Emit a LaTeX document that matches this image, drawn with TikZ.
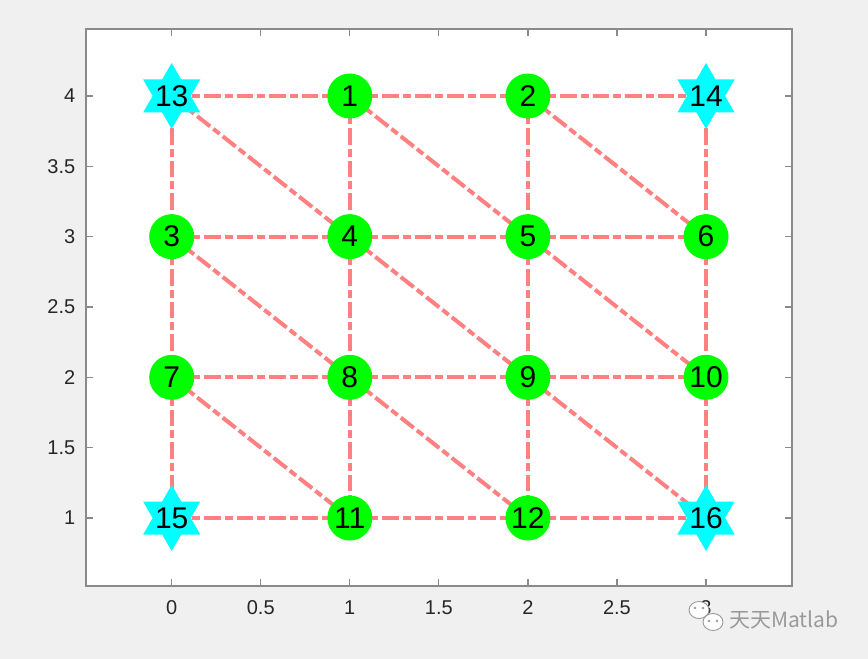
\documentclass[tikz,border=0pt]{standalone}
\usepackage{fontspec}
\setmainfont{Liberation Sans}
\newfontfamily\cjkfont{Noto Sans CJK SC}
\usetikzlibrary{shapes.geometric}
\definecolor{bggray}{HTML}{F0F0F0}
\definecolor{axgray}{HTML}{8A8A8A}
\definecolor{ticktext}{HTML}{262626}
\definecolor{mgreen}{HTML}{00FF00}
\definecolor{mcyan}{HTML}{00FFFF}
\definecolor{edgered}{HTML}{FF8080}
\definecolor{wmgray}{HTML}{9A9A9A}
\newcommand{\nodefont}{\fontsize{30}{36}\selectfont}
\newcommand{\tickfont}{\fontsize{20}{24}\selectfont}
\pgfdeclarelayer{bg}
\pgfdeclarelayer{edges}
\pgfsetlayers{bg,edges,main}
\tikzset{
  dotmark/.style={circle, fill=mgreen, minimum size=45pt, inner sep=0pt, font=\nodefont, text=black},
  starmark/.style={star, star points=6, star point ratio=1.732, fill=mcyan, minimum size=66pt, inner sep=0pt,
    label={[font=\nodefont, text=black, inner sep=0pt]center:#1}},
  edge/.style={draw=edgered, line width=4pt, dash pattern=on 16.5pt off 4pt on 8pt off 4pt},
  ticklab/.style={font=\tickfont, text=ticktext, inner sep=0pt},
  tickline/.style={draw=axgray, line width=1.2pt}
}
\begin{document}
\begin{tikzpicture}[x=1pt,y=-1pt]
\useasboundingbox (0,0) rectangle (868,659);
\begin{pgfonlayer}{bg}
  \fill[bggray] (0,0) rectangle (868,659);
  \fill[white] (86,29) rectangle (792,586);
  \draw[tickline] (86,29) rectangle (792,586);
  \foreach \v/\t [count=\i] in {0/0,0.5/0.5,1/1,1.5/1.5,2/2,2.5/2.5,3/3}{
    \pgfmathsetmacro{\xp}{171.7+178.1*\v}
    \draw[tickline] (\xp,586) -- (\xp,579);
    \draw[tickline] (\xp,29) -- (\xp,36);
    \node[ticklab] (xt\i) at (\xp,608) {\t};
  }
  \foreach \v/\t [count=\i] in {1/1,1.5/1.5,2/2,2.5/2.5,3/3,3.5/3.5,4/4}{
    \pgfmathsetmacro{\yp}{518-140.67*(\v-1)}
    \draw[tickline] (86,\yp) -- (93,\yp);
    \draw[tickline] (792,\yp) -- (785,\yp);
    \node[ticklab, anchor=east] (yt\i) at (75.5,\yp) {\t};
  }
\end{pgfonlayer}

\begin{scope}[shift={(171.7,658.67)}, x=178.1pt, y=140.67pt]
  \node[starmark=13] (n13) at (0,4) {};
  \node[dotmark] (n1) at (1,4) {1};
  \node[dotmark] (n2) at (2,4) {2};
  \node[starmark=14] (n14) at (3,4) {};
  \node[dotmark] (n3) at (0,3) {3};
  \node[dotmark] (n4) at (1,3) {4};
  \node[dotmark] (n5) at (2,3) {5};
  \node[dotmark] (n6) at (3,3) {6};
  \node[dotmark] (n7) at (0,2) {7};
  \node[dotmark] (n8) at (1,2) {8};
  \node[dotmark] (n9) at (2,2) {9};
  \node[dotmark] (n10) at (3,2) {10};
  \node[starmark=15] (n15) at (0,1) {};
  \node[dotmark] (n11) at (1,1) {11};
  \node[dotmark] (n12) at (2,1) {12};
  \node[starmark=16] (n16) at (3,1) {};
\end{scope}

\begin{pgfonlayer}{edges}
  % horizontal
  \foreach \a/\b in {13/1,1/2,2/14,3/4,4/5,5/6,7/8,8/9,9/10,15/11,11/12,12/16}
    \draw[edge] (n\a.center) -- (n\b.center);
  % vertical
  \foreach \a/\b in {13/3,3/7,7/15,1/4,4/8,8/11,2/5,5/9,9/12,14/6,6/10,10/16}
    \draw[edge] (n\a.center) -- (n\b.center);
  % diagonal
  \foreach \a/\b in {13/4,4/9,9/16,1/5,5/10,2/6,3/8,8/12,7/11}
    \draw[edge] (n\a.center) -- (n\b.center);
\end{pgfonlayer}

% watermark
\draw[wmgray, fill=white, line width=0.9pt] (699,610) ellipse [x radius=10, y radius=8.5];
\draw[wmgray, fill=white, line width=0.9pt] (713,622) ellipse [x radius=10, y radius=8.5];
\fill[wmgray] (695,608) circle [radius=1.3] (703,608) circle [radius=1.3]
              (709,621) circle [radius=1.3] (717,621) circle [radius=1.3];
\node[font=\cjkfont\fontsize{21}{24}\selectfont, text=wmgray, inner sep=0pt, anchor=west] (wm) at (729,620) {天天Matlab};
\end{tikzpicture}
\end{document}
